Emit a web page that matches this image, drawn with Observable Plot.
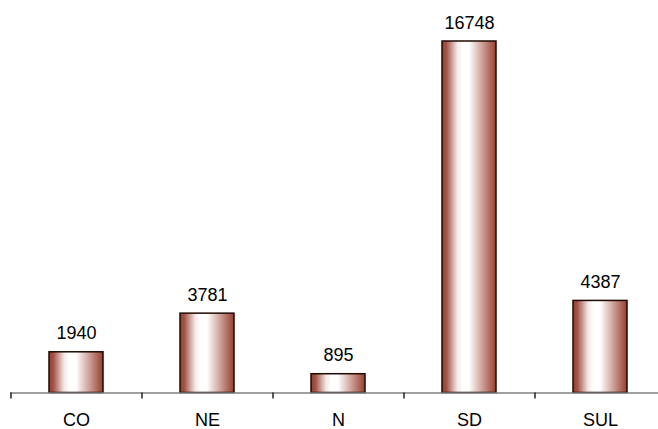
<!DOCTYPE html>
<html>
<head>
<meta charset="utf-8">
<script src="https://cdn.jsdelivr.net/npm/d3@7"></script>
<script src="https://cdn.jsdelivr.net/npm/@observablehq/plot@0.6"></script>
<style>
  html, body { margin: 0; padding: 0; background: #fff; }
</style>
</head>
<body>
<div id="chart"></div>
<script>
const categories = ["CO", "NE", "N", "SD", "SUL"];
const values = [1940, 3781, 895, 16748, 4387];

const data = categories.map((c, i) => ({region: c, value: values[i]}));

const W = 658, H = 429;
const xRange = [10.5, 665.5];
const step = (xRange[1] - xRange[0]) / categories.length;

const gradientDefs = () => {
  const defs = d3.create("svg:defs");
  const g = defs.append("linearGradient").attr("id", "barGrad")
    .attr("x1", "0%").attr("x2", "100%").attr("y1", "0%").attr("y2", "0%");
  [["0%", "#973f2f"], ["8%", "#a25245"], ["28%", "#f3e8e7"], ["38%", "#ffffff"], ["50%", "#ffffff"], ["72%", "#d3aaa2"], ["100%", "#973f2f"]]
    .forEach(([o, c]) => g.append("stop").attr("offset", o).attr("stop-color", c));
  return defs.node();
};

const chart = Plot.plot({
  width: W,
  height: H,
  marginTop: 41,
  marginBottom: 36.5,
  marginLeft: 10,
  marginRight: 0,
  style: {fontFamily: "'Liberation Sans', Arial, sans-serif", fontSize: "18px", color: "#000", background: "#fff"},
  x: {domain: categories, range: xRange, paddingInner: 0.588, paddingOuter: 0.294, label: null},
  y: {domain: [0, 16748], axis: null},
  marks: [
    gradientDefs,
    Plot.barY(data, {x: "region", y: "value", fill: "url(#barGrad)", stroke: "#1e0a03", strokeWidth: 1.5}),
    Plot.ruleY([0], {stroke: "#7f7f7f", strokeWidth: 1.5}),
    Plot.ruleX(categories, {x: d => d, dx: -step / 2, y1: 0, y2: 0, insetBottom: -6, stroke: "#222", strokeWidth: 1.5}),
    Plot.axisX({tickSize: 0, tickPadding: 20.5, fontSize: 18, fill: "#000", label: null}),
    Plot.text(data, {x: "region", y: "value", text: d => String(d.value), lineAnchor: "bottom", dy: -13, fontSize: 18, fill: "#000"})
  ]
});

document.getElementById("chart").appendChild(chart);
</script>
</body>
</html>
